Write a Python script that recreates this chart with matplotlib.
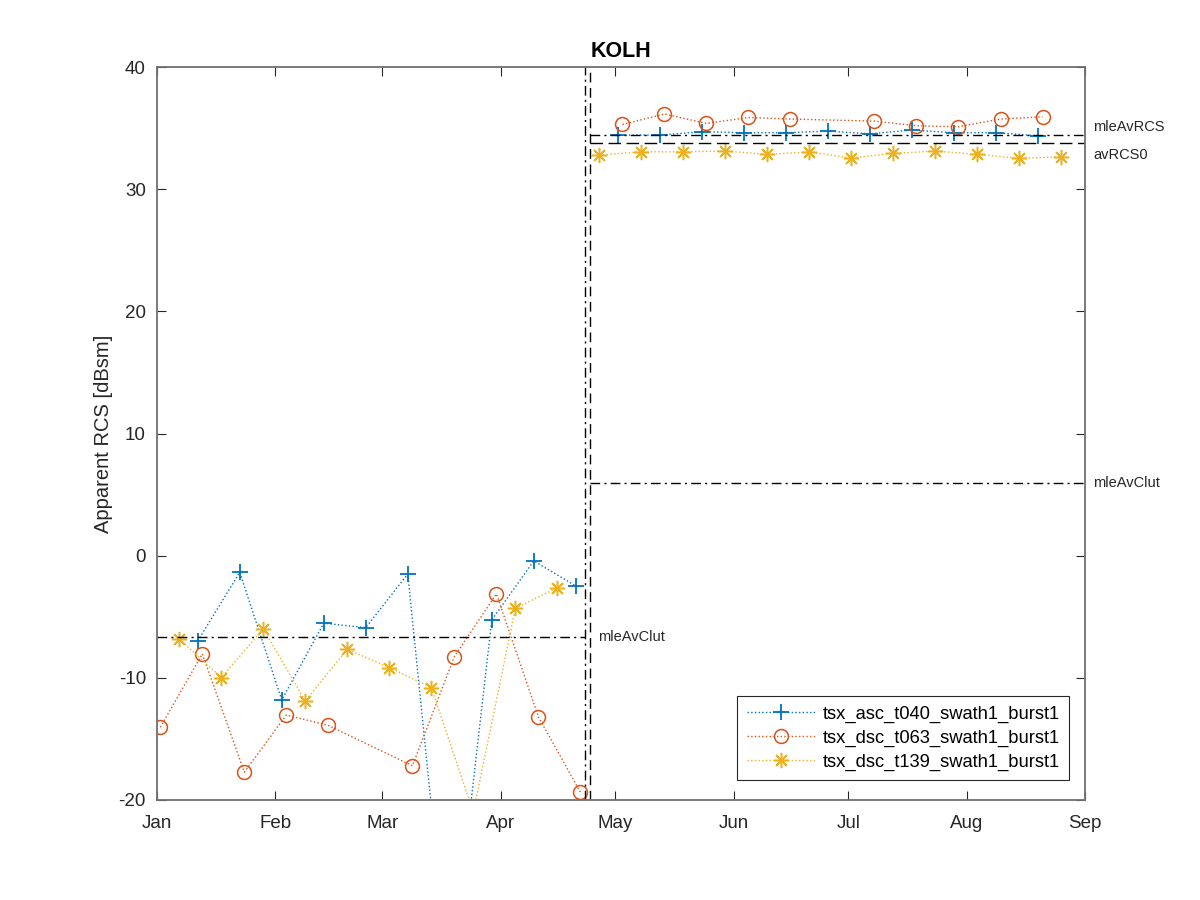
import numpy as np
import matplotlib
matplotlib.use("Agg")
import matplotlib.pyplot as plt
from matplotlib.lines import Line2D

plt.rcParams['font.family'] = ['Liberation Sans', 'DejaVu Sans']
plt.rcParams['axes.unicode_minus'] = False

# ---- data ----
asc_dates = ['2019-01-11 16:00', '2019-01-22 16:00', '2019-02-02 16:00', '2019-02-13 16:00',
             '2019-02-24 16:00', '2019-03-07 16:00', '2019-03-18 16:00', '2019-03-29 16:00',
             '2019-04-09 16:00', '2019-04-20 16:00', '2019-05-01 16:00', '2019-05-12 16:00',
             '2019-05-23 16:00', '2019-06-03 16:00', '2019-06-14 16:00', '2019-06-25 16:00',
             '2019-07-06 16:00', '2019-07-17 16:00', '2019-07-28 16:00', '2019-08-08 16:00',
             '2019-08-19 16:00']
asc_rcs = [-6.98, -1.36, -11.81, -5.53, -5.89, -1.50, -35.4, -5.26, -0.43, -2.48,
           34.43, 34.43, 34.70, 34.62, 34.62, 34.75, 34.53, 34.84, 34.62, 34.62, 34.37]

dsc063_dates = ['2019-01-01 21:00', '2019-01-12 21:00', '2019-01-23 21:00', '2019-02-03 21:00',
                '2019-02-14 21:00', '2019-03-08 21:00', '2019-03-19 21:00', '2019-03-30 21:00',
                '2019-04-10 21:00', '2019-04-21 21:00', '2019-05-02 21:00', '2019-05-13 21:00',
                '2019-05-24 21:00', '2019-06-04 21:00', '2019-06-15 21:00', '2019-07-07 21:00',
                '2019-07-18 21:00', '2019-07-29 21:00', '2019-08-09 21:00', '2019-08-20 21:00']
dsc063_rcs = [-14.04, -8.04, -17.72, -13.04, -13.90, -17.20, -8.26, -3.13, -13.20, -19.36,
              35.30, 36.15, 35.38, 35.87, 35.74, 35.57, 35.19, 35.11, 35.74, 35.92]

dsc139_dates = ['2019-01-06 20:00', '2019-01-17 20:00', '2019-01-28 20:00', '2019-02-08 20:00',
                '2019-02-19 20:00', '2019-03-02 20:00', '2019-03-13 20:00', '2019-03-24 20:00',
                '2019-04-04 20:00', '2019-04-15 20:00', '2019-04-26 20:00', '2019-05-07 20:00',
                '2019-05-18 20:00', '2019-05-29 20:00', '2019-06-09 20:00', '2019-06-20 20:00',
                '2019-07-01 20:00', '2019-07-12 20:00', '2019-07-23 20:00', '2019-08-03 20:00',
                '2019-08-14 20:00', '2019-08-25 20:00']
dsc139_rcs = [-6.82, -9.98, -6.00, -11.89, -7.66, -9.16, -10.80, -21.0, -4.31, -2.62,
              32.79, 33.06, 33.06, 33.12, 32.85, 33.04, 32.55, 32.93, 33.12, 32.85, 32.52, 32.65]

series_names = ['tsx_asc_t040_swath1_burst1', 'tsx_dsc_t063_swath1_burst1', 'tsx_dsc_t139_swath1_burst1']

break_dashdot = '2019-04-23 02:00'
break_dashed = '2019-04-24 10:00'
x_start = '2019-01-01'
x_end = '2019-09-01'

mleAvClut_before = -6.65
mleAvClut_after = 5.95
mleAvRCS = 34.47
avRCS0 = 33.77

month_ticks = ['2019-01-01', '2019-02-01', '2019-03-01', '2019-04-01', '2019-05-01',
               '2019-06-01', '2019-07-01', '2019-08-01', '2019-09-01']
month_labels = ['Jan', 'Feb', 'Mar', 'Apr', 'May', 'Jun', 'Jul', 'Aug', 'Sep']

title = 'KOLH'
ylabel = 'Apparent RCS [dBsm]'

# ---- plotting ----
def d(s):
    return np.datetime64(s.replace(' ', 'T'))

def dl(lst):
    return np.array([d(s) for s in lst])

fig = plt.figure(figsize=(12, 9), dpi=100)
ax = fig.add_axes([157/1200, 100/900, 928/1200, 733/900])

c_blue, c_red, c_yel = '#0072BD', '#D95319', '#EDB120'
styles = [
    dict(color=c_blue, marker='+', markersize=11, markeredgewidth=1.3),
    dict(color=c_red, marker='o', markersize=10, markerfacecolor='none', markeredgewidth=1.1),
    dict(color=c_yel, marker=(8, 2, 0), markersize=11, markeredgewidth=1.1),
]
series = [(asc_dates, asc_rcs), (dsc063_dates, dsc063_rcs), (dsc139_dates, dsc139_rcs)]
brk = d(break_dashdot)
handles = []
for (dates, vals), st, name in zip(series, styles, series_names):
    x = dl(dates)
    y = np.array(vals)
    pre = x < brk
    ax.plot(x[pre], y[pre], linestyle=':', lw=1.0, **st)
    ax.plot(x[~pre], y[~pre], linestyle=':', lw=1.0, **st)
    handles.append(Line2D([], [], linestyle=':', lw=1.0, label=name, **st))

k = 'black'
dashdot = (0, (7, 3, 1.5, 3))
ax.axvline(d(break_dashdot), color=k, lw=1.0, linestyle=dashdot)
ax.axvline(d(break_dashed), color=k, lw=1.0, linestyle=(0, (7, 4)))

ax.plot([d(x_start), d(break_dashdot)], [mleAvClut_before]*2, color=k, lw=1.0, linestyle=dashdot)
ax.plot([d(break_dashed), d(x_end)], [mleAvClut_after]*2, color=k, lw=1.0, linestyle=dashdot)
ax.plot([d(break_dashed), d(x_end)], [mleAvRCS]*2, color=k, lw=1.0, linestyle=dashdot)
ax.plot([d(break_dashed), d(x_end)], [avRCS0]*2, color=k, lw=1.0, linestyle=(0, (9, 4)))

tk = dict(fontsize=10.5, color='#262626', va='center', ha='left')
ax.annotate('mleAvClut', xy=(d(break_dashed), mleAvClut_before), xytext=(6, 0),
            textcoords='offset points', **tk)
ax.annotate('mleAvClut', xy=(1.0, mleAvClut_after), xycoords=('axes fraction', 'data'),
            xytext=(6, 0), textcoords='offset points', **tk)
ax.annotate('mleAvRCS', xy=(1.0, mleAvRCS), xycoords=('axes fraction', 'data'),
            xytext=(6, 5.5), textcoords='offset points', **tk)
ax.annotate('avRCS0', xy=(1.0, avRCS0), xycoords=('axes fraction', 'data'),
            xytext=(6, -8.5), textcoords='offset points', **tk)

ax.set_xlim(d(x_start), d(x_end))
ax.set_ylim(-20, 40)
ax.set_xticks(dl(month_ticks))
ax.set_xticklabels(month_labels)
ax.set_yticks(np.arange(-20, 41, 10))

ax.tick_params(direction='in', length=6.5, width=0.8, top=True, right=True,
               labelsize=13.5, colors='#262626')
ax.tick_params(axis='x', pad=11)
ax.tick_params(axis='y', pad=8)
for sp in ax.spines.values():
    sp.set_color('#707070')
    sp.set_linewidth(1.3)

ax.set_title(title, fontsize=15.5, fontweight='bold', color='black', pad=7)
ax.set_ylabel(ylabel, fontsize=14.5, color='#262626', labelpad=4)

leg = ax.legend(handles=handles, loc='lower right', fontsize=13.2, frameon=True, fancybox=False,
                edgecolor='#262626', framealpha=1, handlelength=3.8, borderpad=0.5,
                labelspacing=0.38, handletextpad=0.35, borderaxespad=0,
                bbox_to_anchor=((1069 - 157) / 928, (800 - 780) / 733))
leg.get_frame().set_linewidth(0.8)

fig.savefig('out.png', dpi=100, facecolor='white')
